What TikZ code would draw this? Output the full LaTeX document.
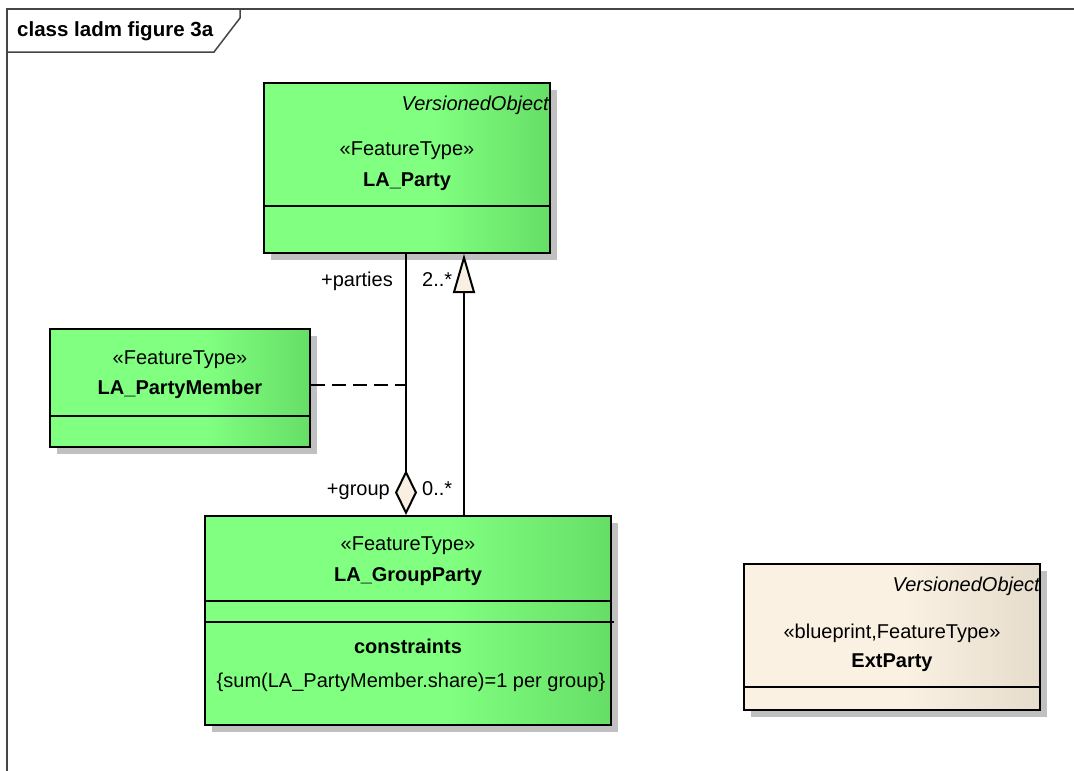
\documentclass[tikz,border=0pt]{standalone}
\usepackage{fontspec}
\setmainfont{Liberation Sans}
\usetikzlibrary{arrows.meta,shadows,calc}

\definecolor{greenA}{RGB}{128,255,128}
\definecolor{greenB}{RGB}{102,222,102}
\definecolor{beigeA}{RGB}{251,241,227}
\definecolor{beigeB}{RGB}{230,220,204}
\definecolor{tipfill}{RGB}{250,240,225}
\definecolor{shadowgray}{RGB}{192,192,192}
\definecolor{framegray}{RGB}{70,70,70}

% class box fills: flat on the left, darkening towards the right edge
\pgfdeclarehorizontalshading{greenfade}{100bp}{color(0bp)=(greenA); color(25bp)=(greenA); color(55bp)=(greenA); color(75bp)=(greenB); color(100bp)=(greenB)}
\pgfdeclarehorizontalshading{beigefade}{100bp}{color(0bp)=(beigeA); color(25bp)=(beigeA); color(52bp)=(beigeA); color(75bp)=(beigeB); color(100bp)=(beigeB)}

\tikzset{
  classbox/.style={draw=black, line width=2pt, rectangle, inner sep=0pt, anchor=north west,
    drop shadow={shadow xshift=7pt, shadow yshift=-7pt, fill=shadowgray, opacity=1}},
  greenbox/.style={classbox, shading=greenfade},
  beigebox/.style={classbox, shading=beigefade},
  divider/.style={draw=black, line width=2pt},
  txt/.style={inner sep=0pt, font=\fontsize{20}{24}\selectfont},
  stereo/.style={txt, anchor=base},
  cname/.style={txt, anchor=base, font=\fontsize{20}{24}\selectfont\bfseries},
  supername/.style={txt, anchor=base east, font=\fontsize{20}{24}\selectfont\itshape},
  rolelabel/.style={txt},
  conn/.style={draw=black, line width=2pt},
  framestyle/.style={draw=framegray, line width=1.5pt}
}

\begin{document}
\begin{tikzpicture}[x=1pt, y=1pt]
  \useasboundingbox[fill=white] (0,0) rectangle (1074,-771);

  % diagram frame and its name tab
  \draw[framestyle] (1074,-9) -- (7,-9) -- (7,-771);
  \draw[framestyle] (240,-9) -- (240,-18) -- (214,-52) -- (7,-52);
  \node[txt, anchor=base west, font=\fontsize{20.5}{24}\selectfont\bfseries] (title) at (17,-36) {class ladm figure 3a};

  % LA_Party
  \node[greenbox, minimum width=286pt, minimum height=170pt] (party) at (263,-82) {};
  \draw[divider] ([yshift=-124pt]party.north west) -- ([yshift=-124pt]party.north east);
  \node[supername] (partysuper) at ([xshift=-2pt, yshift=-28pt]party.north east) {VersionedObject};
  \node[stereo] (partyster) at ([yshift=-73pt]party.north) {«FeatureType»};
  \node[cname] (partyname) at ([yshift=-104pt]party.north) {LA\_Party};

  % LA_PartyMember
  \node[greenbox, minimum width=260pt, minimum height=118pt] (member) at (49,-328) {};
  \draw[divider] ([yshift=-88pt]member.north west) -- ([yshift=-88pt]member.north east);
  \node[stereo] (memberster) at ([yshift=-36pt]member.north) {«FeatureType»};
  \node[cname] (membername) at ([yshift=-66pt]member.north) {LA\_PartyMember};

  % LA_GroupParty
  \node[greenbox, minimum width=406pt, minimum height=209pt] (gp) at (204,-515) {};
  \draw[divider] ([yshift=-86pt]gp.north west) -- ([yshift=-86pt]gp.north east);
  \draw[divider] ([yshift=-107pt]gp.north west) -- ([xshift=2pt, yshift=-107pt]gp.north east);
  \node[stereo] (gpster) at ([yshift=-35pt]gp.north) {«FeatureType»};
  \node[cname] (gpname) at ([yshift=-66pt]gp.north) {LA\_GroupParty};
  \node[cname] (gpcons) at ([yshift=-138pt]gp.north) {constraints};
  \node[stereo] (gpconsbody) at ([xshift=3pt, yshift=-172pt]gp.north) {\{sum(LA\_PartyMember.share)=1 per group\}};

  % ExtParty
  \node[beigebox, minimum width=296pt, minimum height=146pt] (ext) at (743,-563) {};
  \draw[divider] ([yshift=-124pt]ext.north west) -- ([yshift=-124pt]ext.north east);
  \node[supername] (extsuper) at ([xshift=-1pt, yshift=-28pt]ext.north east) {VersionedObject};
  \node[stereo] (extster) at ([yshift=-75pt]ext.north) {«blueprint,FeatureType»};
  \node[cname] (extname) at ([yshift=-104pt]ext.north) {ExtParty};

  % connector columns
  \coordinate (aggx) at (406,0);
  \coordinate (genx) at (464,0);
  \coordinate (classpt) at (406,-385);

  % aggregation LA_GroupParty <>-- LA_Party
  \draw[conn, {Diamond[length=45pt, width=22pt, fill=tipfill, line width=2pt]}-] (gp.north -| aggx) -- (party.south -| aggx);

  % generalization LA_GroupParty --|> LA_Party
  \draw[conn, -{Triangle[length=39pt, width=22pt, fill=tipfill, line width=2pt]}] (gp.north -| genx) -- (party.south -| genx);

  % association class link
  \draw[conn, dash pattern=on 14pt off 7pt] (member.east |- classpt) -- (classpt);

  % role names and multiplicities
  \node[rolelabel, anchor=base east] (rparties) at (393,-286) {+parties};
  \node[rolelabel, anchor=base west] (mparties) at (422,-286) {2..*};
  \node[rolelabel, anchor=base east] (rgroup) at (390,-495) {+group};
  \node[rolelabel, anchor=base west] (mgroup) at (422,-495) {0..*};
\end{tikzpicture}
\end{document}
